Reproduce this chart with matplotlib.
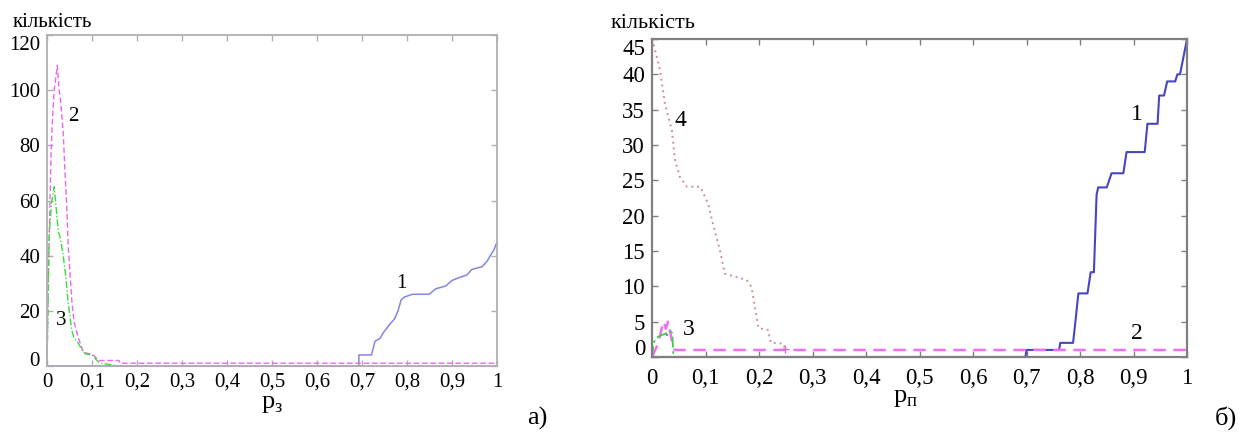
import matplotlib
matplotlib.use("Agg")
import matplotlib.pyplot as plt
import matplotlib.transforms as mtransforms
from matplotlib import font_manager

# шукаємо шрифт із засічками (Times-подібний)
serif_name = None
for path in font_manager.findSystemFonts():
    low = path.lower()
    if 'liberationserif-regular' in low or 'times' in low:
        font_manager.fontManager.addfont(path)
        serif_name = font_manager.FontProperties(fname=path).get_name()
        break
if serif_name is None:
    names = {f.name for f in font_manager.fontManager.ttflist}
    serif_name = 'Liberation Serif' if 'Liberation Serif' in names else 'DejaVu Serif'

plt.rcParams['font.family'] = [serif_name, 'DejaVu Serif']
plt.rcParams['mathtext.fontset'] = 'custom'
plt.rcParams['mathtext.rm'] = serif_name

# ---- панель а) ----
a1_x = [0, 0.693, 0.693, 0.721, 0.729, 0.74, 0.747, 0.761, 0.772, 0.78, 0.787, 0.794, 0.812,
        0.849, 0.864, 0.886, 0.9, 0.915, 0.933, 0.944, 0.967, 0.978, 0.985, 0.993, 1.0]
a1_y = [0, 0, 4, 4, 9, 10, 12, 15, 17, 20, 24, 25, 26,
        26, 28, 29, 31, 32, 33, 35, 36, 38, 40, 42, 45]

a2_x = [0, 0.003, 0.009, 0.012, 0.016, 0.023, 0.027, 0.029, 0.036, 0.04, 0.044, 0.047,
        0.055, 0.06, 0.07, 0.081, 0.103, 0.114, 0.16, 0.162, 1.0]
a2_y = [0, 32, 77, 89, 100, 109, 100, 98, 85, 70, 58, 44,
        24, 16, 10, 5, 4, 2, 2, 1, 1]

a3_x = [0, 0.005, 0.01, 0.016, 0.02, 0.025, 0.03, 0.036, 0.042, 0.047, 0.055, 0.06,
        0.067, 0.077, 0.085, 0.1, 0.111, 0.119, 0.163, 1.0]
a3_y = [0, 48, 59, 65, 58, 49, 46, 40, 32, 23, 13, 10,
        9, 6, 4.4, 4, 2, 1, 0, 0]

# ---- панель б) ----
b1_x = [0, 0.698, 0.7, 0.761, 0.763, 0.787, 0.79, 0.797, 0.814, 0.82, 0.826, 0.831, 0.834,
        0.85, 0.859, 0.881, 0.887, 0.921, 0.926, 0.945, 0.948, 0.957, 0.963, 0.978, 0.982,
        0.987, 1.0]
b1_y = [0, 0, 1, 1, 2, 2, 4, 9, 9, 12, 12, 23, 24,
        24, 26, 26, 29, 29, 33, 33, 37, 37, 39, 39, 40,
        40, 45]

b2_x = [0, 0.012, 0.018, 0.022, 0.026, 0.03, 0.034, 0.038, 0.042, 1.0]
b2_y = [0, 2, 4, 5, 4, 5, 3.5, 2, 1, 1]

b3_x = [0, 0.003, 0.008, 0.015, 0.025, 0.035, 0.038, 0.04, 1.0]
b3_y = [0, 2, 2.7, 3, 3.3, 3.6, 3.4, 0, 0]

b4_x = [0, 0.004, 0.015, 0.024, 0.037, 0.043, 0.052, 0.065, 0.09, 0.105, 0.112, 0.127,
        0.136, 0.177, 0.186, 0.199, 0.217, 0.222, 0.245, 0.249]
b4_y = [45, 44, 40.6, 35.9, 32.1, 27.9, 25.5, 24.1, 24.1, 21.7, 19.4, 15.1,
        11.8, 10.9, 9.9, 4.1, 3.8, 2, 1.9, 1.1]

x_ticks = [0, 0.1, 0.2, 0.3, 0.4, 0.5, 0.6, 0.7, 0.8, 0.9, 1]
x_labels = ['0', '0,1', '0,2', '0,3', '0,4', '0,5', '0,6', '0,7', '0,8', '0,9', '1']
a_yticks = [0, 20, 40, 60, 80, 100, 120]
b_yticks = [0, 5, 10, 15, 20, 25, 30, 35, 40, 45]

W, H = 1243, 432
fig = plt.figure(figsize=(W / 100, H / 100), dpi=100)


def box(x0, y0, x1, y1):
    return [x0 / W, 1 - y1 / H, (x1 - x0) / W, (y1 - y0) / H]


def shift(lab, dx, dy):
    lab.set_transform(lab.get_transform() +
                      mtransforms.ScaledTranslation(dx / 100, dy / 100, fig.dpi_scale_trans))


def style(ax, col, lw, fs, xpad, ypad, zero_up, top_down):
    for s in ax.spines.values():
        s.set_color(col)
        s.set_linewidth(lw)
    ax.set_xlim(0, 1)
    ax.set_xticks(x_ticks, x_labels)
    ax.tick_params(direction='in', top=True, right=True, length=4, width=1,
                   color=col, labelsize=fs)
    ax.tick_params(axis='x', pad=xpad)
    ax.tick_params(axis='y', pad=ypad)
    ylabs = ax.get_yticklabels()
    shift(ylabs[0], 0, zero_up)
    shift(ylabs[-1], 0, -top_down)


# а)
ax1 = fig.add_axes(box(47, 35, 497, 366))
ax1.plot(a1_x, a1_y, color='#8484e4', lw=1.1, clip_on=False)
ax1.plot(a2_x, a2_y, color='#f064f0', lw=1.0, ls=(0, (4, 2)), clip_on=False)
ax1.plot(a3_x, a3_y, color='#3cdc3c', lw=1.0, ls=(0, (5, 1.5, 1, 1.5)), clip_on=False)
ax1.set_ylim(0, 120)
ax1.set_yticks(a_yticks)
style(ax1, '#b0b0b0', 1.3, 15, 5, 5, 7, 8)
ax1.text(0.059, 90.3, '2', fontsize=15, ha='center', va='center')
ax1.text(0.031, 16.4, '3', fontsize=15, ha='center', va='center')
ax1.text(0.788, 30, '1', fontsize=15, ha='center', va='center')

# б)
ax2 = fig.add_axes(box(652, 39, 1187, 357))
ax2.plot(b1_x, b1_y, color='#4646c0', lw=1.5, clip_on=False)
ax2.plot(b2_x, b2_y, color='#f070f0', lw=1.8, ls=(0, (5, 3)), clip_on=False)
ax2.plot(b3_x, b3_y, color='#40d040', lw=1.3, ls=(0, (6, 2, 1.5, 2)), clip_on=False)
ax2.plot(b4_x, b4_y, color='#d09090', lw=1.4, ls=(0, (1, 2)), clip_on=False)
ax2.plot(b4_x[-1:], b4_y[-1:], color='#d070d0', marker='+', ms=6, ls='none')
ax2.set_ylim(0, 45)
ax2.set_yticks(b_yticks)
style(ax2, '#808080', 1.6, 16.5, 8, 5, 10, 8)
ax2.text(0.053, 33.5, '4', fontsize=17, ha='center', va='center')
ax2.text(0.907, 34.3, '1', fontsize=17, ha='center', va='center')
ax2.text(0.907, 3.3, '2', fontsize=17, ha='center', va='center')
ax2.annotate('3', xy=(0.027, 3.1), xytext=(0.068, 3.9), fontsize=17, ha='center', va='center',
             arrowprops=dict(arrowstyle='-', color='#2050d0', lw=1, shrinkA=9, shrinkB=0))

# підписи
fig.text(13 / W, 1 - 27 / H, 'кількість', fontsize=15, ha='left', va='baseline')
fig.text(611 / W, 1 - 28 / H, 'кількість', fontsize=16, ha='left', va='baseline')
fig.text(272 / W, 1 - 408 / H, r'$\mathrm{p}_{\mathrm{з}}$', fontsize=19, ha='center', va='baseline')
fig.text(905 / W, 1 - 402 / H, r'$\mathrm{p}_{\mathrm{п}}$', fontsize=19, ha='center', va='baseline')
fig.text(527 / W, 1 - 425 / H, 'а)', fontsize=19, ha='left', va='baseline')
fig.text(1215 / W, 1 - 425 / H, 'б)', fontsize=19, ha='left', va='baseline')

fig.savefig('out.png', dpi=100)
